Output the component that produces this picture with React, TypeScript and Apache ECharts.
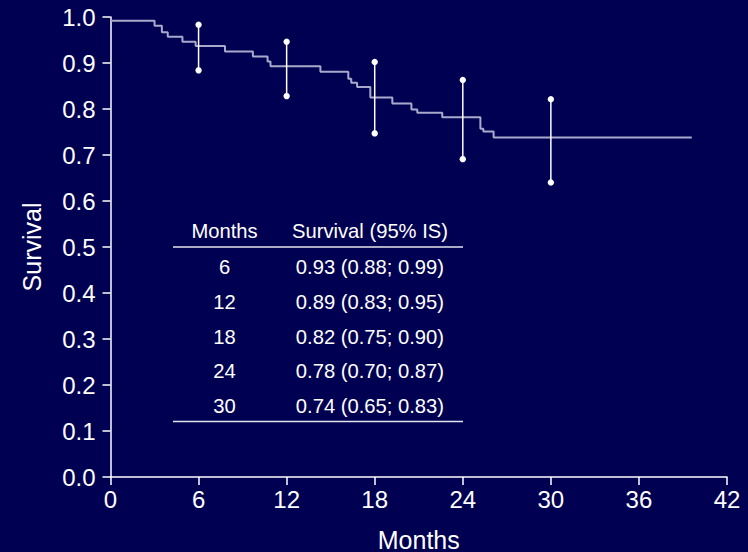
import React, { useEffect, useRef } from "react";
import * as echarts from "echarts";

// Kaplan-Meier step curve (months, survival)
const kmTimes = [0, 3.0, 3.5, 3.9, 4.9, 5.8, 7.8, 9.7, 10.7, 10.9, 14.3, 16.2, 16.4, 16.8, 17.7, 19.2, 20.5, 20.9, 22.6, 25.2, 25.4, 26.1, 39.6];
const kmSurv = [0.992, 0.981, 0.967, 0.957, 0.946, 0.937, 0.925, 0.914, 0.903, 0.893, 0.881, 0.866, 0.857, 0.848, 0.825, 0.812, 0.799, 0.792, 0.782, 0.757, 0.751, 0.738, 0.738];

// Summary table
const tableMonths = [6, 12, 18, 24, 30];
const tableSurv = [0.93, 0.89, 0.82, 0.78, 0.74];
const tableLo = [0.88, 0.83, 0.75, 0.7, 0.65];
const tableHi = [0.99, 0.95, 0.9, 0.87, 0.83];

// Confidence-interval bars as drawn in the plot
const ciLo = [0.884, 0.828, 0.747, 0.691, 0.64];
const ciHi = [0.983, 0.946, 0.902, 0.863, 0.821];

const xTicks = [0, 6, 12, 18, 24, 30, 36, 42];

const FONT = "'Liberation Sans', Arial, Helvetica, sans-serif";
const BG = "#000052";
const WHITE = "#ffffff";

export default function App() {
  const ref = useRef<HTMLDivElement>(null);

  useEffect(() => {
    if (!ref.current) return;
    const chart = echarts.init(ref.current, undefined, { renderer: "svg" });

    const kmData = kmTimes.map((t, i) => [t, kmSurv[i]]);
    const ciData = tableMonths.map((m, i) => [m, ciLo[i], ciHi[i]]);

    const fmt = (v: number) => v.toFixed(2);
    const headerY = 231;
    const rowY0 = 267;
    const rowStep = 34.8;
    const tableFont = 20.2;

    const tableTexts: any[] = [
      {
        type: "text",
        x: 224.5,
        y: headerY,
        style: { text: "Months", fill: WHITE, font: `${tableFont}px ${FONT}`, textAlign: "center", textVerticalAlign: "middle" },
      },
      {
        type: "text",
        x: 370,
        y: headerY,
        style: { text: "Survival (95% IS)", fill: WHITE, font: `${tableFont}px ${FONT}`, textAlign: "center", textVerticalAlign: "middle" },
      },
      {
        type: "line",
        shape: { x1: 173, y1: 247, x2: 463, y2: 247 },
        style: { stroke: "#e4e4ee", lineWidth: 1.5 },
      },
      {
        type: "line",
        shape: { x1: 173, y1: 421.5, x2: 463, y2: 421.5 },
        style: { stroke: "#e4e4ee", lineWidth: 1.5 },
      },
    ];
    tableMonths.forEach((m, i) => {
      const y = rowY0 + i * rowStep;
      tableTexts.push({
        type: "text",
        x: 224.5,
        y,
        style: { text: String(m), fill: WHITE, font: `${tableFont}px ${FONT}`, textAlign: "center", textVerticalAlign: "middle" },
      });
      tableTexts.push({
        type: "text",
        x: 444,
        y,
        style: {
          text: `${fmt(tableSurv[i])} (${fmt(tableLo[i])}; ${fmt(tableHi[i])})`,
          fill: WHITE,
          font: `${tableFont}px ${FONT}`,
          textAlign: "right",
          textVerticalAlign: "middle",
        },
      });
    });

    chart.setOption({
      animation: false,
      backgroundColor: BG,
      textStyle: { fontFamily: FONT },
      grid: { left: 110.5, right: 21, top: 17, bottom: 75, containLabel: false, outerBoundsMode: "none" },
      xAxis: {
        type: "value",
        min: 0,
        max: 42,
        interval: 6,
        name: "Months",
        nameLocation: "middle",
        nameGap: 50,
        nameTextStyle: { color: WHITE, fontSize: 25, fontFamily: FONT },
        axisLine: { show: true, lineStyle: { color: WHITE, width: 1.5 } },
        axisTick: { show: true, length: 8, lineStyle: { color: WHITE, width: 1.5 } },
        axisLabel: {
          color: WHITE,
          fontSize: 24,
          fontFamily: FONT,
          margin: 10,
          formatter: (v: number) => (xTicks.includes(v) ? String(v) : ""),
        },
        splitLine: { show: false },
      },
      yAxis: {
        type: "value",
        min: 0,
        max: 1,
        interval: 0.1,
        name: "Survival",
        nameLocation: "middle",
        nameGap: 66,
        nameTextStyle: { color: WHITE, fontSize: 25, fontFamily: FONT },
        axisLine: { show: true, lineStyle: { color: WHITE, width: 1.5 } },
        axisTick: { show: true, length: 8, lineStyle: { color: WHITE, width: 1.5 } },
        axisLabel: {
          color: WHITE,
          fontSize: 24,
          fontFamily: FONT,
          margin: 15,
          formatter: (v: number) => v.toFixed(1),
        },
        splitLine: { show: false },
      },
      series: [
        {
          type: "line",
          step: "end",
          data: kmData,
          showSymbol: false,
          symbol: "none",
          lineStyle: { color: "#a9a9cc", width: 2 },
          z: 2,
        },
        {
          type: "custom",
          data: ciData,
          z: 3,
          renderItem: (params: any, api: any) => {
            const x = api.value(0);
            const lo = api.value(1);
            const hi = api.value(2);
            const p1 = api.coord([x, lo]);
            const p2 = api.coord([x, hi]);
            return {
              type: "group",
              children: [
                {
                  type: "line",
                  shape: { x1: p1[0], y1: p1[1], x2: p2[0], y2: p2[1] },
                  style: { stroke: WHITE, lineWidth: 1.5 },
                },
                { type: "circle", shape: { cx: p1[0], cy: p1[1], r: 3.2 }, style: { fill: WHITE } },
                { type: "circle", shape: { cx: p2[0], cy: p2[1], r: 3.2 }, style: { fill: WHITE } },
              ],
            };
          },
        },
      ],
      graphic: tableTexts,
    });

    return () => {
      chart.dispose();
    };
  }, []);

  return (
    <div
      ref={ref}
      style={{ position: "fixed", left: 0, top: 0, width: 748, height: 552, background: BG }}
    />
  );
}
